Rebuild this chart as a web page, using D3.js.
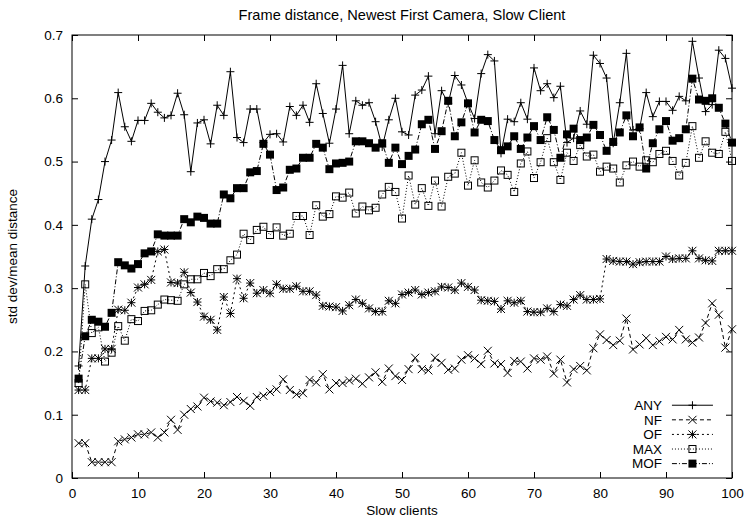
<!DOCTYPE html>
<html>
<head>
<meta charset="utf-8">
<script src="https://cdn.jsdelivr.net/npm/d3@7"></script>
<style>
  body { margin: 0; background: #fff; }
  text { font-family: "Liberation Sans", Arial, Helvetica, sans-serif; fill: #000; }
</style>
</head>
<body>
<div id="chart"></div>
<script>
// data, x = 1..100
const clients = d3.range(1, 101);
const seriesNames = ["ANY", "NF", "OF", "MAX", "MOF"];
const xTicks = [0, 10, 20, 30, 40, 50, 60, 70, 80, 90, 100];
const yTicks = [0, 0.1, 0.2, 0.3, 0.4, 0.5, 0.6, 0.7];

const anyVals = [0.177,0.335,0.409,0.440,0.500,0.534,0.609,0.555,0.532,0.565,
  0.565,0.592,0.578,0.569,0.573,0.608,0.574,0.484,0.561,0.566,
  0.528,0.589,0.573,0.642,0.538,0.530,0.583,0.583,0.530,0.543,
  0.544,0.531,0.587,0.573,0.589,0.562,0.623,0.576,0.529,0.583,
  0.652,0.544,0.596,0.589,0.593,0.563,0.523,0.566,0.600,0.547,
  0.542,0.605,0.613,0.635,0.544,0.612,0.592,0.636,0.621,0.592,
  0.568,0.639,0.669,0.659,0.513,0.567,0.563,0.593,0.567,0.648,
  0.612,0.623,0.601,0.619,0.530,0.537,0.580,0.559,0.668,0.655,
  0.632,0.529,0.593,0.671,0.550,0.552,0.609,0.571,0.595,0.595,
  0.581,0.603,0.596,0.690,0.632,0.579,0.590,0.676,0.663,0.616];

const nfVals = [0.055,0.055,0.025,0.025,0.025,0.025,0.058,0.061,0.064,0.069,
  0.069,0.072,0.064,0.072,0.092,0.076,0.100,0.109,0.113,0.127,
  0.121,0.119,0.115,0.120,0.128,0.122,0.114,0.128,0.130,0.136,
  0.140,0.156,0.139,0.132,0.134,0.155,0.151,0.164,0.140,0.150,
  0.150,0.154,0.157,0.149,0.159,0.167,0.152,0.173,0.161,0.155,
  0.172,0.190,0.172,0.170,0.190,0.182,0.171,0.173,0.187,0.194,
  0.189,0.180,0.201,0.181,0.180,0.166,0.185,0.184,0.173,0.189,
  0.187,0.192,0.165,0.187,0.151,0.172,0.177,0.170,0.205,0.227,
  0.218,0.210,0.217,0.252,0.203,0.211,0.221,0.210,0.216,0.223,
  0.219,0.234,0.219,0.214,0.222,0.245,0.276,0.258,0.206,0.235];

const ofVals = [0.139,0.139,0.189,0.189,0.204,0.204,0.266,0.265,0.277,0.301,
  0.306,0.313,0.358,0.361,0.309,0.308,0.325,0.293,0.278,0.255,
  0.250,0.234,0.286,0.260,0.315,0.284,0.308,0.292,0.297,0.292,
  0.306,0.299,0.299,0.303,0.295,0.295,0.289,0.272,0.271,0.270,
  0.264,0.273,0.282,0.276,0.268,0.263,0.263,0.280,0.276,0.290,
  0.293,0.297,0.290,0.293,0.295,0.302,0.301,0.297,0.308,0.302,
  0.297,0.281,0.280,0.279,0.267,0.280,0.277,0.280,0.263,0.262,
  0.262,0.268,0.263,0.274,0.272,0.282,0.289,0.282,0.282,0.283,
  0.346,0.343,0.342,0.342,0.338,0.341,0.342,0.342,0.342,0.350,
  0.346,0.347,0.347,0.359,0.347,0.344,0.343,0.359,0.359,0.359];

const maxVals = [0.150,0.306,0.229,0.238,0.184,0.198,0.240,0.217,0.251,0.248,
  0.264,0.265,0.274,0.282,0.281,0.280,0.306,0.314,0.314,0.324,
  0.319,0.330,0.330,0.344,0.353,0.386,0.376,0.392,0.397,0.384,
  0.396,0.383,0.386,0.414,0.414,0.384,0.431,0.413,0.417,0.445,
  0.443,0.451,0.418,0.429,0.423,0.427,0.448,0.460,0.452,0.410,
  0.478,0.432,0.458,0.430,0.470,0.429,0.476,0.481,0.514,0.462,
  0.502,0.467,0.459,0.470,0.486,0.479,0.452,0.497,0.516,0.474,
  0.499,0.537,0.499,0.471,0.514,0.501,0.526,0.508,0.511,0.484,
  0.492,0.489,0.467,0.494,0.500,0.492,0.502,0.499,0.512,0.517,
  0.501,0.478,0.498,0.556,0.506,0.532,0.514,0.512,0.547,0.501];

const mofVals = [0.157,0.224,0.250,0.247,0.239,0.261,0.341,0.336,0.331,0.338,
  0.355,0.358,0.385,0.383,0.383,0.383,0.409,0.404,0.413,0.411,
  0.402,0.402,0.448,0.442,0.458,0.458,0.483,0.485,0.528,0.511,
  0.455,0.459,0.487,0.489,0.506,0.506,0.528,0.522,0.488,0.497,
  0.498,0.500,0.532,0.532,0.529,0.522,0.529,0.498,0.522,0.496,
  0.509,0.519,0.559,0.566,0.520,0.548,0.596,0.540,0.562,0.592,
  0.546,0.566,0.564,0.534,0.518,0.524,0.540,0.520,0.538,0.556,
  0.534,0.570,0.550,0.506,0.543,0.552,0.534,0.538,0.558,0.542,
  0.517,0.531,0.546,0.573,0.540,0.554,0.489,0.529,0.551,0.564,
  0.533,0.537,0.551,0.631,0.598,0.596,0.600,0.585,0.560,0.530];

// layout
const W = 747, H = 523;
const margin = { top: 35, right: 15, bottom: 45, left: 72 };
const width = W - margin.left - margin.right;
const height = H - margin.top - margin.bottom;

const styles = {
  ANY: { dash: null, marker: "plus" },
  NF:  { dash: "4,3", marker: "cross" },
  OF:  { dash: "2,3", marker: "star" },
  MAX: { dash: "1,2", marker: "square" },
  MOF: { dash: "5,2,1,2", marker: "fsquare" }
};
const allVals = { ANY: anyVals, NF: nfVals, OF: ofVals, MAX: maxVals, MOF: mofVals };

const svg = d3.select("#chart").append("svg")
  .attr("width", W).attr("height", H);

const g = svg.append("g").attr("transform", `translate(${margin.left},${margin.top})`);

const x = d3.scaleLinear().domain([0, 100]).range([0, width]);
const y = d3.scaleLinear().domain([0, 0.7]).range([height, 0]);

// title + axis labels
svg.append("text")
  .attr("x", margin.left + width / 2).attr("y", 20)
  .attr("text-anchor", "middle").style("font-size", "14.6px")
  .text("Frame distance, Newest First Camera, Slow Client");

svg.append("text")
  .attr("transform", `translate(17,${margin.top + height / 2}) rotate(-90)`)
  .attr("text-anchor", "middle").style("font-size", "13.5px")
  .text("std dev/mean distance");

svg.append("text")
  .attr("x", margin.left + width / 2).attr("y", H - 8)
  .attr("text-anchor", "middle").style("font-size", "13.5px")
  .text("Slow clients");

// axes, ticks inside on all four sides
const tk = 6;
g.append("g").attr("transform", `translate(0,${height})`)
  .call(d3.axisBottom(x).tickValues(xTicks).tickSizeInner(-tk).tickSizeOuter(0).tickPadding(10))
  .call(a => a.select(".domain").remove());
g.append("g")
  .call(d3.axisTop(x).tickValues(xTicks).tickSizeInner(-tk).tickSizeOuter(0).tickFormat(""))
  .call(a => a.select(".domain").remove());
g.append("g")
  .call(d3.axisLeft(y).tickValues(yTicks).tickSizeInner(-tk).tickSizeOuter(0).tickPadding(9)
    .tickFormat(d => d === 0 ? "0" : d3.format(".1f")(d)))
  .call(a => a.select(".domain").remove());
g.append("g").attr("transform", `translate(${width},0)`)
  .call(d3.axisRight(y).tickValues(yTicks).tickSizeInner(-tk).tickSizeOuter(0).tickFormat(""))
  .call(a => a.select(".domain").remove());
g.selectAll(".tick text").style("font-size", "13.5px").attr("font-family", null);
g.selectAll(".tick line").attr("stroke", "#000");

// markers
function drawMarker(sel, type, cx, cy) {
  const s = 4;
  if (type === "plus") {
    sel.append("path").attr("d", `M${cx - s},${cy}H${cx + s}M${cx},${cy - s}V${cy + s}`)
      .attr("stroke", "#000").attr("fill", "none");
  } else if (type === "cross") {
    sel.append("path").attr("d", `M${cx - s},${cy - s}L${cx + s},${cy + s}M${cx - s},${cy + s}L${cx + s},${cy - s}`)
      .attr("stroke", "#000").attr("fill", "none");
  } else if (type === "star") {
    sel.append("path").attr("d", `M${cx - s},${cy - s}L${cx + s},${cy + s}M${cx - s},${cy + s}L${cx + s},${cy - s}M${cx - s},${cy}H${cx + s}M${cx},${cy - s}V${cy + s}`)
      .attr("stroke", "#000").attr("fill", "none");
  } else if (type === "square") {
    sel.append("rect").attr("x", cx - 3.5).attr("y", cy - 3.5).attr("width", 7).attr("height", 7)
      .attr("stroke", "#000").attr("fill", "none");
  } else {
    sel.append("rect").attr("x", cx - 4).attr("y", cy - 4).attr("width", 8).attr("height", 8)
      .attr("fill", "#000");
  }
}

const line = d3.line().x((d, i) => x(clients[i])).y(d => y(d));

seriesNames.forEach(name => {
  const st = styles[name];
  const vals = allVals[name];
  const sg = g.append("g").attr("class", "series-" + name);
  sg.append("path").datum(vals)
    .attr("d", line)
    .attr("fill", "none").attr("stroke", "#000").attr("stroke-width", 1)
    .attr("stroke-dasharray", st.dash);
  vals.forEach((v, i) => drawMarker(sg, st.marker, x(clients[i]), y(v)));
});

// frame
g.append("rect").attr("width", width).attr("height", height)
  .attr("fill", "none").attr("stroke", "#000");

// legend (sample line starts at ~x=91)
const leg = g.append("g").attr("transform", `translate(${x(90.9)},${y(0.115)})`);
seriesNames.forEach((name, i) => {
  const st = styles[name];
  const row = leg.append("g").attr("transform", `translate(0,${i * 14.6})`);
  row.append("text").attr("x", -10).attr("dy", "0.35em")
    .attr("text-anchor", "end").style("font-size", "13.5px").text(name);
  row.append("line").attr("x1", 0).attr("x2", 41)
    .attr("stroke", "#000").attr("stroke-dasharray", st.dash);
  drawMarker(row, st.marker, 20.5, 0);
});
</script>
</body>
</html>
